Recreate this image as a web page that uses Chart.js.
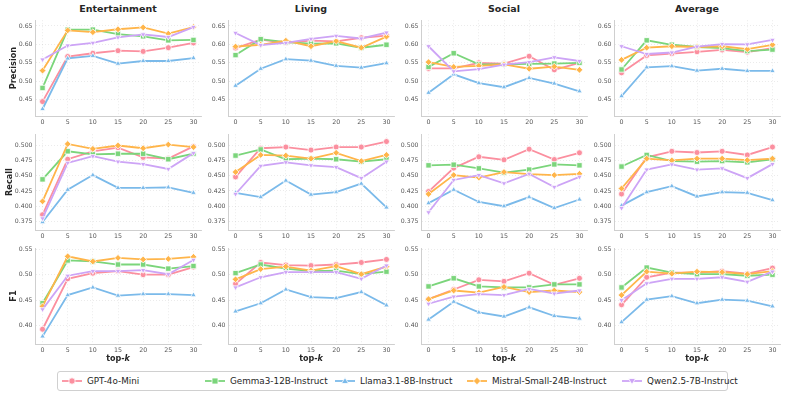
<!DOCTYPE html>
<html>
<head>
<meta charset="utf-8">
<script src="https://cdn.jsdelivr.net/npm/chart.js@4.4.0/dist/chart.umd.min.js"></script>
<style>
  body { margin: 0; width: 785px; height: 394px; background: #fff; position: relative; overflow: hidden; font-family: "DejaVu Sans", sans-serif; }
  canvas { position: absolute; }
  .title { position: absolute; width: 166px; text-align: center; font-weight: bold; font-size: 9.5px; line-height: 11px; color: #262626; }
  .rowlabel { position: absolute; width: 80px; text-align: center; font-weight: bold; font-size: 8.2px; line-height: 10px; color: #262626; transform: rotate(-90deg); }
  .xlabel { position: absolute; width: 166px; text-align: center; font-weight: bold; font-size: 8px; line-height: 10px; color: #262626; }
  #legend { position: absolute; left: 57px; top: 371px; width: 669px; height: 18px; border: 1px solid #d0d0d0; border-radius: 3px; }
  .item { position: absolute; top: 0; height: 18px; font-size: 8.8px; line-height: 18px; color: #262626; white-space: nowrap; }
  .item svg { position: absolute; top: 4px; }
</style>
</head>
<body>
<div id="legend"></div>
<script>
const topK = [0, 5, 10, 15, 20, 25, 30];
const models = ['GPT-4o-Mini', 'Gemma3-12B-Instruct', 'Llama3.1-8B-Instruct', 'Mistral-Small-24B-Instruct', 'Qwen2.5-7B-Instruct'];
const categories = ['Entertainment', 'Living', 'Social', 'Average'];
const metrics = ['Precision', 'Recall', 'F1'];

const precisionTicks = [0.45, 0.50, 0.55, 0.60, 0.65];
const recallTicks = [0.375, 0.400, 0.425, 0.450, 0.475, 0.500];
const f1Ticks = [0.40, 0.45, 0.50, 0.55];

// one row per model, same order as models
const precisionEntertainment = [
  [0.445, 0.567, 0.576, 0.583, 0.581, 0.591, 0.604],
  [0.482, 0.640, 0.640, 0.628, 0.622, 0.611, 0.612],
  [0.425, 0.562, 0.569, 0.548, 0.555, 0.555, 0.563],
  [0.529, 0.638, 0.633, 0.641, 0.646, 0.629, 0.647],
  [0.559, 0.597, 0.604, 0.619, 0.627, 0.620, 0.647]
];
const precisionLiving = [
  [0.590, 0.613, 0.604, 0.610, 0.608, 0.618, 0.624],
  [0.571, 0.614, 0.606, 0.602, 0.603, 0.591, 0.599],
  [0.488, 0.534, 0.560, 0.556, 0.542, 0.537, 0.549],
  [0.594, 0.599, 0.610, 0.595, 0.609, 0.591, 0.621],
  [0.631, 0.598, 0.604, 0.615, 0.623, 0.616, 0.632]
];
const precisionSocial = [
  [0.535, 0.535, 0.550, 0.548, 0.568, 0.531, 0.550],
  [0.539, 0.576, 0.546, 0.546, 0.547, 0.548, 0.550],
  [0.469, 0.519, 0.495, 0.484, 0.509, 0.494, 0.473],
  [0.552, 0.539, 0.542, 0.546, 0.534, 0.540, 0.531],
  [0.595, 0.527, 0.533, 0.545, 0.552, 0.565, 0.555]
];
const precisionAverage = [
  [0.523, 0.570, 0.575, 0.580, 0.585, 0.579, 0.590],
  [0.532, 0.611, 0.599, 0.593, 0.590, 0.582, 0.586],
  [0.460, 0.538, 0.541, 0.529, 0.534, 0.528, 0.528],
  [0.558, 0.591, 0.595, 0.593, 0.595, 0.587, 0.599],
  [0.595, 0.574, 0.578, 0.594, 0.601, 0.600, 0.612]
];

const recallEntertainment = [
  [0.386, 0.477, 0.490, 0.496, 0.480, 0.478, 0.498],
  [0.444, 0.490, 0.485, 0.486, 0.486, 0.477, 0.486],
  [0.374, 0.427, 0.451, 0.430, 0.430, 0.431, 0.422],
  [0.408, 0.502, 0.494, 0.4995, 0.495, 0.501, 0.497],
  [0.380, 0.471, 0.482, 0.473, 0.469, 0.461, 0.487]
];
const recallLiving = [
  [0.448, 0.495, 0.497, 0.492, 0.497, 0.497, 0.506],
  [0.483, 0.493, 0.477, 0.478, 0.477, 0.473, 0.477],
  [0.422, 0.415, 0.442, 0.419, 0.423, 0.437, 0.398],
  [0.456, 0.484, 0.483, 0.478, 0.4875, 0.474, 0.484],
  [0.420, 0.466, 0.472, 0.467, 0.464, 0.446, 0.473]
];
const recallSocial = [
  [0.424, 0.4625, 0.481, 0.476, 0.4935, 0.4765, 0.4875],
  [0.467, 0.468, 0.462, 0.455, 0.460, 0.4685, 0.467],
  [0.405, 0.427, 0.407, 0.400, 0.415, 0.397, 0.411],
  [0.420, 0.451, 0.447, 0.456, 0.4525, 0.451, 0.453],
  [0.390, 0.443, 0.451, 0.4375, 0.453, 0.4315, 0.448]
];
const recallAverage = [
  [0.420, 0.480, 0.490, 0.488, 0.490, 0.484, 0.497],
  [0.465, 0.484, 0.474, 0.473, 0.474, 0.472, 0.477],
  [0.401, 0.423, 0.433, 0.416, 0.423, 0.422, 0.410],
  [0.429, 0.478, 0.475, 0.478, 0.478, 0.4755, 0.478],
  [0.397, 0.460, 0.4685, 0.460, 0.462, 0.446, 0.469]
];

const f1Entertainment = [
  [0.393, 0.492, 0.503, 0.507, 0.500, 0.500, 0.515],
  [0.444, 0.528, 0.526, 0.520, 0.520, 0.512, 0.517],
  [0.379, 0.460, 0.475, 0.459, 0.462, 0.462, 0.460],
  [0.438, 0.536, 0.526, 0.533, 0.530, 0.531, 0.535],
  [0.432, 0.498, 0.507, 0.507, 0.509, 0.501, 0.529]
];
const f1Living = [
  [0.482, 0.524, 0.519, 0.518, 0.520, 0.524, 0.530],
  [0.503, 0.520, 0.512, 0.507, 0.508, 0.501, 0.506],
  [0.428, 0.444, 0.471, 0.456, 0.454, 0.466, 0.440],
  [0.491, 0.511, 0.516, 0.508, 0.517, 0.501, 0.516],
  [0.475, 0.495, 0.505, 0.505, 0.505, 0.492, 0.518]
];
const f1Social = [
  [0.452, 0.471, 0.490, 0.487, 0.503, 0.480, 0.493],
  [0.477, 0.493, 0.477, 0.475, 0.475, 0.481, 0.481],
  [0.412, 0.447, 0.426, 0.418, 0.436, 0.419, 0.414],
  [0.452, 0.469, 0.465, 0.476, 0.466, 0.469, 0.466],
  [0.443, 0.457, 0.462, 0.460, 0.472, 0.463, 0.469]
];
const f1Average = [
  [0.441, 0.495, 0.504, 0.504, 0.507, 0.502, 0.513],
  [0.475, 0.514, 0.504, 0.501, 0.501, 0.498, 0.500],
  [0.407, 0.451, 0.458, 0.444, 0.451, 0.449, 0.438],
  [0.460, 0.506, 0.502, 0.506, 0.505, 0.501, 0.507],
  [0.450, 0.483, 0.492, 0.492, 0.495, 0.486, 0.506]
];

const grid = [
  [precisionEntertainment, precisionLiving, precisionSocial, precisionAverage],
  [recallEntertainment, recallLiving, recallSocial, recallAverage],
  [f1Entertainment, f1Living, f1Social, f1Average]
];
const rowTicks = [precisionTicks, recallTicks, f1Ticks];
const rowRange = [[0.406, 0.6655], [0.361, 0.518], [0.364, 0.552]];
const rowDecimals = [2, 3, 2];

const colors = ['#fb8f9f', '#7bd57b', '#7bbaea', '#ffb54a', '#cda4f6'];
const pointStyles = ['circle', 'rect', 'triangle', 'rectRot', 'triangle'];
const pointRotations = [0, 0, 0, 0, 180];
const pointSizes = [3, 3.8, 3.2, 3.4, 3.2];

// layout in page pixels
const PLOT_W = 166, PLOT_H = 96;
const Y_W = 30, X_H = 14, PAD = 6;
const colLeft = c => 35 + 193 * c;
const rowTop = r => 20 + 114 * r;
const rowLabelX = [13, 9, 13];

function addDiv(cls, html, left, top) {
  const d = document.createElement('div');
  d.className = cls;
  d.innerHTML = html;
  d.style.left = left + 'px';
  d.style.top = top + 'px';
  document.body.appendChild(d);
  return d;
}

function makeChart(r, c) {
  const cv = document.createElement('canvas');
  const w = PLOT_W + Y_W + PAD, h = PLOT_H + X_H + PAD;
  cv.width = w; cv.height = h;
  cv.style.left = (colLeft(c) - Y_W) + 'px';
  cv.style.top = (rowTop(r) - PAD) + 'px';
  cv.style.width = w + 'px'; cv.style.height = h + 'px';
  document.body.appendChild(cv);

  const series = grid[r][c];
  const datasets = models.map((m, i) => ({
    label: m,
    data: topK.map((k, j) => ({ x: k, y: series[i][j] })),
    borderColor: colors[i],
    backgroundColor: colors[i],
    borderWidth: 1.8,
    pointStyle: pointStyles[i],
    pointRotation: pointRotations[i],
    pointRadius: pointSizes[i],
    pointBorderColor: '#fff',
    pointBorderWidth: 0.8,
    order: models.length - i,
    tension: 0
  }));

  new Chart(cv, {
    type: 'line',
    data: { datasets },
    options: {
      responsive: false,
      animation: false,
      devicePixelRatio: 1,
      layout: { padding: { top: PAD, right: PAD, left: 0, bottom: 0 } },
      plugins: { legend: { display: false }, tooltip: { enabled: false } },
      scales: {
        x: {
          type: 'linear',
          min: -1.5, max: 31.5,
          afterBuildTicks: s => { s.ticks = topK.map(v => ({ value: v })); },
          afterFit: s => { s.height = X_H; },
          grid: { color: 'rgba(0,0,0,0.10)', lineWidth: 0.8, drawTicks: false },
          border: { color: '#cfcfcf', width: 1, dash: [1, 2] },
          ticks: { font: { family: 'DejaVu Sans', size: 6.3 }, color: '#555', padding: 3, maxRotation: 0 }
        },
        y: {
          type: 'linear',
          min: rowRange[r][0], max: rowRange[r][1],
          afterBuildTicks: s => { s.ticks = rowTicks[r].map(v => ({ value: v })); },
          afterFit: s => { s.width = Y_W; },
          grid: { color: 'rgba(0,0,0,0.10)', lineWidth: 0.8, drawTicks: false },
          border: { color: '#cfcfcf', width: 1, dash: [1, 2] },
          ticks: {
            font: { family: 'DejaVu Sans', size: 6.2 }, color: '#555', padding: 2.5,
            callback: v => Number(v).toFixed(rowDecimals[r])
          }
        }
      }
    }
  });
}

for (let r = 0; r < 3; r++) {
  for (let c = 0; c < 4; c++) makeChart(r, c);
}

categories.forEach((name, c) => addDiv('title', name, colLeft(c), 3));
metrics.forEach((name, r) => addDiv('rowlabel', name, rowLabelX[r] - 40, rowTop(r) + PLOT_H / 2 - 5));
categories.forEach((name, c) => addDiv('xlabel', 'top-<i>k</i>', colLeft(c), 354));

// legend
const legendTextLeft = [86, 229, 359, 491, 646];
const legend = document.getElementById('legend');
function markerSvg(i) {
  const col = colors[i];
  let shape;
  if (i === 0) shape = `<circle cx="10" cy="5" r="3.2" fill="${col}" stroke="#fff" stroke-width="0.8"/>`;
  else if (i === 1) shape = `<rect x="7" y="2" width="6" height="6" fill="${col}" stroke="#fff" stroke-width="0.8"/>`;
  else if (i === 2) shape = `<polygon points="10,1.5 13.5,7.5 6.5,7.5" fill="${col}" stroke="#fff" stroke-width="0.8"/>`;
  else if (i === 3) shape = `<polygon points="10,1.2 13.6,5 10,8.8 6.4,5" fill="${col}" stroke="#fff" stroke-width="0.8"/>`;
  else shape = `<polygon points="6.5,2.5 13.5,2.5 10,8.5" fill="${col}" stroke="#fff" stroke-width="0.8"/>`;
  return `<svg width="20" height="10" viewBox="0 0 20 10"><line x1="0" y1="5" x2="20" y2="5" stroke="${col}" stroke-width="1.8"/>${shape}</svg>`;
}
models.forEach((m, i) => {
  const d = document.createElement('div');
  d.className = 'item';
  d.style.left = (legendTextLeft[i] - 57 - 25) + 'px';
  d.innerHTML = markerSvg(i) + `<span style="position:absolute;left:25px">${m}</span>`;
  legend.appendChild(d);
});
</script>
</body>
</html>
